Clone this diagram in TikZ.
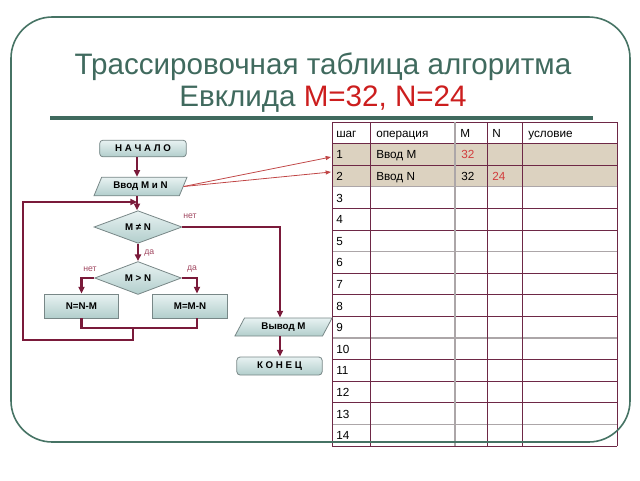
\documentclass[tikz,border=0pt]{standalone}
\usepackage{fontspec}
\setmainfont{Liberation Sans}
\usetikzlibrary{shapes.geometric,arrows.meta,calc}
\definecolor{connc}{RGB}{122,26,58}
\definecolor{ttl}{RGB}{64,106,94}
\definecolor{ttlred}{RGB}{204,30,30}
\definecolor{lbl}{RGB}{160,70,95}
\definecolor{tline}{RGB}{110,40,70}
\definecolor{tgrey}{RGB}{172,166,168}
\definecolor{rowfill}{RGB}{220,210,192}
\definecolor{framec}{RGB}{70,115,100}
\definecolor{boxtop}{RGB}{232,242,242}
\definecolor{boxbot}{RGB}{178,206,204}
\definecolor{boxline}{RGB}{120,135,135}
\definecolor{cellred}{RGB}{210,60,60}
\definecolor{thinred}{RGB}{192,70,70}
\begin{document}
\begin{tikzpicture}[x=0.75pt,y=-0.75pt,
  fbox/.style={draw=boxline, line width=0.6pt, top color=boxtop, bottom color=boxbot,
    font=\bfseries\fontsize{7.3}{9}\selectfont, inner sep=0pt},
  startend/.style={fbox, rectangle, rounded corners=2.5pt},
  procbox/.style={fbox, rectangle},
  iobox/.style={fbox, trapezium, trapezium left angle=58, trapezium right angle=122, trapezium stretches=true},
  decbox/.style={fbox, diamond},
  flow/.style={draw=connc, line width=1.6pt},
  flowarr/.style={flow, -{Triangle[length=5pt,width=4.5pt]}},
  redarr/.style={draw=thinred, line width=0.6pt, -{Triangle[length=4pt,width=3pt]}},
  yesno/.style={text=lbl, font=\fontsize{6.5}{8}\selectfont, inner sep=0pt},
  ttlstyle/.style={text=ttl, font=\fontsize{22.2}{26}\selectfont, inner sep=0pt},
  cell/.style={font=\fontsize{8.8}{10}\selectfont, anchor=base west, inner sep=0pt},
  tl/.style={draw=tline, line width=0.6pt},
  tg/.style={draw=tgrey, line width=1pt}
]
\useasboundingbox (0,0) rectangle (640,480);

% title
\node[ttlstyle] (t1) at (323,67) {Трассировочная таблица алгоритма};
\node[ttlstyle] (t2) at (323,99) {Евклида \textcolor{ttlred}{M=32, N=24}};

% table
\fill[rowfill] (332,143.6) rectangle (617,186.8);
\foreach \i in {0,1,2,4,5,7,8,9,11,12,13,15}
  \draw[tl] (332,{122+21.6*\i}) -- (617,{122+21.6*\i});
\foreach \i in {3,6,10,14}
  \draw[tg] (332,{122+21.6*\i}) -- (617,{122+21.6*\i});
\foreach \x in {332,370,487,522,617}
  \draw[tl] (\x,122) -- (\x,446);
\draw[tg] (455,122) -- (455,446);

\node[cell] (h1) at (336,137.2) {шаг};
\node[cell] (h2) at (376,137.2) {операция};
\node[cell] (h3) at (460,137.2) {M};
\node[cell] (h4) at (492,137.2) {N};
\node[cell] (h5) at (528,137.2) {условие};
\foreach \i in {1,...,14}
  \node[cell] (r\i) at (336,{122+21.6*\i+15.2}) {\i};
\node[cell] (c11) at (376,158.8) {Ввод M};
\node[cell, text=cellred] (c13) at (461,158.8) {32};
\node[cell] (c21) at (376,180.4) {Ввод N};
\node[cell] (c23) at (461,180.4) {32};
\node[cell, text=cellred] (c24) at (492,180.4) {24};

% frame and title rule
\draw[framec, line width=1.2pt, rounded corners=31pt] (11,17) rectangle (630,442);
\draw[ttl, line width=2.4pt] (50,118) -- (593,118);

% flowchart
\coordinate (mx) at (137,0);
\coordinate (ox) at (280,0);
\coordinate (rx) at (197,0);
\coordinate (jm) at (133,328);
\coordinate (lb) at (23,340);
\coordinate (entry) at (137,202);
\coordinate (ta1) at (331,157);
\coordinate (ta2) at (331,172);

\node[startend, minimum width=65pt, minimum height=12.5pt] (start) at (143,148.5) {Н А Ч А Л О};
\node[iobox, minimum width=70pt, minimum height=14pt] (in) at (140.5,186.5) {Ввод M и N};
\node[decbox, minimum width=66pt, minimum height=22.5pt] (d1) at (138,227) {M ≠ N};
\node[decbox, minimum width=65pt, minimum height=22.5pt] (d2) at (138,278) {M > N};
\node[procbox, minimum width=56pt, minimum height=18pt] (nn) at (81.5,306) {N=N-M};
\node[procbox, minimum width=56pt, minimum height=18pt] (mm) at (190,306) {M=M-N};
\node[iobox, minimum width=73pt, minimum height=13.5pt] (out) at (283.5,327) {Вывод M};
\node[startend, minimum width=64pt, minimum height=13.5pt] (end) at (279.5,366) {К О Н Е Ц};

\draw[flowarr] (start.south -| mx) -- (in.north -| mx);
\draw[flowarr] (in.south -| mx) -- (d1.north -| mx);
\draw[flowarr] (d1.east) -| (out.north -| ox);
\draw[flowarr] (d1.south) -- (d2.north);
\draw[flowarr] (d2.west) -| (nn.north);
\draw[flowarr] (d2.east) -| (mm.north -| rx);
\draw[flow] (nn.south) |- (jm) -| (mm.south -| rx);
\draw[flowarr] (jm) |- (lb) |- (entry);
\draw[flowarr] (out.south -| ox) -- (end.north -| ox);

\node[yesno, anchor=west] (l1) at (183,216) {нет};
\node[yesno, anchor=west] (l2) at (144,253) {да};
\node[yesno] (l3) at (90,269) {нет};
\node[yesno] (l4) at (192,269) {да};

\draw[redarr] (in.east) -- (ta1);
\draw[redarr] (in.east) -- (ta2);
\end{tikzpicture}
\end{document}
